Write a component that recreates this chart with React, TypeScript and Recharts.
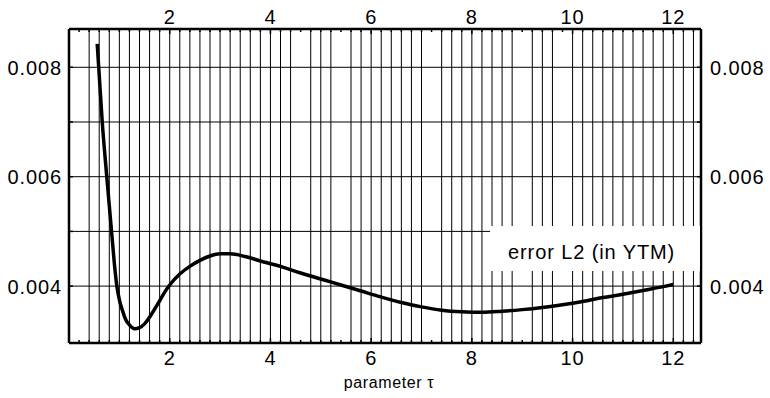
import React from 'react';
import { LineChart, Line, XAxis, YAxis, ReferenceLine, Label } from 'recharts';

// curve: L2 error (in YTM) against parameter tau
const TAU = [
  0.56, 0.66, 0.75, 0.86, 0.9, 0.95, 1.0, 1.06, 1.12, 1.2, 1.3, 1.4, 1.5, 1.6,
  1.7, 1.8, 1.9, 2.0, 2.2, 2.4, 2.6, 2.8, 3.0, 3.2, 3.5, 3.8, 4.2, 4.6, 5.0,
  5.4, 5.8, 6.2, 6.6, 7.0, 7.4, 7.8, 8.2, 8.6, 9.0, 9.4, 9.8, 10.2, 10.6,
  11.0, 11.4, 11.8, 12.0,
];
const ERROR_L2 = [
  0.00843, 0.007, 0.006, 0.00484, 0.00442, 0.004, 0.00375, 0.00356, 0.0034,
  0.00329, 0.00322, 0.00324, 0.00331, 0.00343, 0.00358, 0.00373, 0.00389,
  0.00402, 0.00422, 0.00436, 0.00447, 0.00455, 0.00459, 0.00459, 0.00454,
  0.00446, 0.00436, 0.00424, 0.00413, 0.00402, 0.00391, 0.0038, 0.0037,
  0.00362, 0.00356, 0.00353, 0.00352, 0.00354, 0.00357, 0.00361, 0.00366,
  0.00372, 0.00379, 0.00385, 0.00392, 0.00399, 0.00403,
];

const X_DOMAIN = [0, 12.55];
const Y_DOMAIN = [0.00296, 0.0087];

const X_LABELS = [2, 4, 6, 8, 10, 12];
const X_MINOR_TICKS = [
  0.2, 0.4, 0.6, 0.8, 1, 1.2, 1.4, 1.6, 1.8, 2, 2.2, 2.4, 2.6, 2.8, 3, 3.2,
  3.4, 3.6, 3.8, 4, 4.2, 4.4, 4.6, 4.8, 5, 5.2, 5.4, 5.6, 5.8, 6, 6.2, 6.4,
  6.6, 6.8, 7, 7.2, 7.4, 7.6, 7.8, 8, 8.2, 8.4, 8.6, 8.8, 9, 9.2, 9.4, 9.6,
  9.8, 10, 10.2, 10.4, 10.6, 10.8, 11, 11.2, 11.4, 11.6, 11.8, 12, 12.2, 12.4,
];
// vertical grid lines (a few positions are skipped in the original)
const X_GRID = [
  0.4, 0.6, 0.8, 1, 1.2, 1.4, 1.6, 1.8, 2, 2.2, 2.4, 2.6, 2.8, 3, 3.2, 3.4,
  3.6, 3.8, 4, 4.2, 4.4, 4.8, 5, 5.2, 5.6, 5.8, 6, 6.2, 6.4, 6.6, 6.8, 7, 7.4,
  7.6, 7.8, 8, 8.2, 8.4, 8.6, 8.8, 9.2, 9.4, 9.6, 10, 10.2, 10.4, 10.6, 10.8,
  11, 11.2, 11.4, 11.6, 11.8, 12, 12.2, 12.4,
];
const Y_TICKS = [0.004, 0.005, 0.006, 0.007, 0.008];
const Y_LABELS = [0.004, 0.006, 0.008];
const Y_GRID = [0.004, 0.005, 0.006, 0.007, 0.008];

const FONT = '"Liberation Sans", Arial, Helvetica, sans-serif';
const SPACING = 0.9;

const data = TAU.map((t, i) => ({ x: t, y: ERROR_L2[i] }));

function TopTick(props: any) {
  const { x, y, payload } = props;
  const v = payload.value as number;
  const major = X_LABELS.includes(v);
  return (
    <g>
      <line x1={x} x2={x} y1={y} y2={y + (major ? 5 : 3)} stroke="#000" strokeWidth={1.5} />
      {major && (
        <text x={x} y={y - 5.5} textAnchor="middle" fontSize={20} fill="#000" style={{ letterSpacing: SPACING }}>
          {v}
        </text>
      )}
    </g>
  );
}

function BottomTick(props: any) {
  const { x, y, payload } = props;
  const v = payload.value as number;
  const major = X_LABELS.includes(v);
  return (
    <g>
      <line x1={x} x2={x} y1={y} y2={y - (major ? 5 : 3)} stroke="#000" strokeWidth={1.5} />
      {major && (
        <text x={x} y={y + 22} textAnchor="middle" fontSize={20} fill="#000" style={{ letterSpacing: SPACING }}>
          {v}
        </text>
      )}
    </g>
  );
}

function LeftTick(props: any) {
  const { x, y, payload } = props;
  const v = payload.value as number;
  const major = Y_LABELS.includes(v);
  return (
    <g>
      <line x1={x} x2={x + 4} y1={y} y2={y} stroke="#000" strokeWidth={1.5} />
      {major && (
        <text x={x - 7} y={y + 7.5} textAnchor="end" fontSize={20} fill="#000" style={{ letterSpacing: SPACING }}>
          {v.toFixed(3)}
        </text>
      )}
    </g>
  );
}

function RightTick(props: any) {
  const { x, y, payload } = props;
  const v = payload.value as number;
  const major = Y_LABELS.includes(v);
  return (
    <g>
      <line x1={x - 4} x2={x} y1={y} y2={y} stroke="#000" strokeWidth={1.5} />
      {major && (
        <text x={x + 9} y={y + 7.5} textAnchor="start" fontSize={20} fill="#000" style={{ letterSpacing: SPACING }}>
          {v.toFixed(3)}
        </text>
      )}
    </g>
  );
}

export default function App() {
  const frame = { stroke: '#000', strokeWidth: 2.5 };
  return (
    <div
      style={{
        position: 'absolute',
        left: 0,
        top: 0,
        width: 770,
        height: 398,
        background: '#fff',
        fontFamily: FONT,
      }}
    >
      <LineChart width={770} height={398} data={data} margin={{ top: 0, right: 0, bottom: 0, left: 0 }}>
        <XAxis
          dataKey="x"
          type="number"
          domain={X_DOMAIN}
          ticks={X_MINOR_TICKS}
          interval={0}
          height={55}
          tickSize={0}
          tickMargin={0}
          tickLine={false}
          axisLine={frame}
          tick={<BottomTick />}
        >
          <Label
            value="parameter τ"
            position="insideBottom"
            offset={10}
            dx={4}
            fontSize={16}
            fill="#000"
            style={{ letterSpacing: 0.6 }}
          />
        </XAxis>
        <XAxis
          xAxisId="top"
          orientation="top"
          dataKey="x"
          type="number"
          domain={X_DOMAIN}
          ticks={X_MINOR_TICKS}
          interval={0}
          height={29}
          tickSize={0}
          tickMargin={0}
          tickLine={false}
          axisLine={frame}
          tick={<TopTick />}
        />
        <YAxis
          dataKey="y"
          type="number"
          domain={Y_DOMAIN}
          ticks={Y_TICKS}
          interval={0}
          width={69}
          tickSize={0}
          tickMargin={0}
          tickLine={false}
          axisLine={frame}
          tick={<LeftTick />}
        />
        <YAxis
          yAxisId="right"
          orientation="right"
          dataKey="y"
          type="number"
          domain={Y_DOMAIN}
          ticks={Y_TICKS}
          interval={0}
          width={69}
          tickSize={0}
          tickMargin={0}
          tickLine={false}
          axisLine={frame}
          tick={<RightTick />}
        />
        {X_GRID.map((g) => (
          <ReferenceLine key={'gx' + g} x={g} stroke="#000" strokeWidth={1} />
        ))}
        {Y_GRID.map((g) => (
          <ReferenceLine key={'gy' + g} y={g} stroke="#000" strokeWidth={1} />
        ))}
        <Line
          dataKey="y"
          type="monotone"
          stroke="#000"
          strokeWidth={3.5}
          dot={false}
          activeDot={false}
          isAnimationActive={false}
        />
      </LineChart>
      {/* legend box covering the grid */}
      <div
        style={{
          position: 'absolute',
          left: 490,
          top: 226,
          width: 210,
          height: 45,
          background: '#fff',
        }}
      >
        <span
          style={{
            position: 'absolute',
            left: 18,
            top: 16,
            fontSize: 20,
            lineHeight: '20px',
            letterSpacing: SPACING,
            color: '#000',
            whiteSpace: 'nowrap',
          }}
        >
          error L2 (in YTM)
        </span>
      </div>
    </div>
  );
}
